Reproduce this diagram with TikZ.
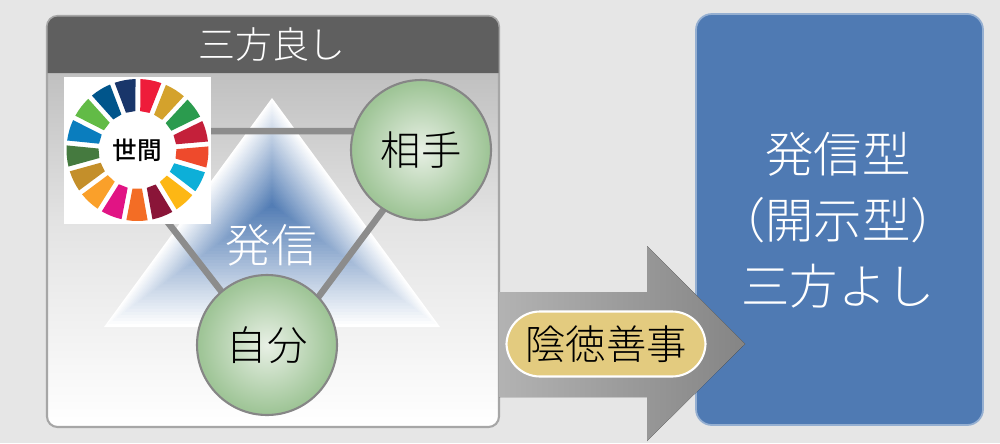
\documentclass[tikz,border=0pt]{standalone}
\usepackage{fontspec}
\setmainfont[UprightFont=* Light, BoldFont=* Medium]{Noto Sans CJK JP}
\usetikzlibrary{calc}

\definecolor{bgGray}{HTML}{E6E6E6}
\definecolor{headGray}{HTML}{5F5F5F}
\definecolor{linkGray}{HTML}{8C8C8C}
\definecolor{boxBlue}{HTML}{4F7AB3}
\definecolor{pillGold}{HTML}{E3CB7F}
\definecolor{ballGreen}{HTML}{9FC597}
\definecolor{ballLight}{HTML}{E8F0E5}

\pgfdeclareradialshading{ballshade}{\pgfpoint{0bp}{0bp}}{color(0bp)=(ballLight); color(24bp)=(ballGreen); color(50bp)=(ballGreen)}

\tikzset{
    ball/.style={circle, draw=gray!95, line width=1.2pt, minimum size=2.8cm, inner sep=0pt,
        shade, shading=ballshade, font=\fontsize{23}{23}\selectfont},
    link/.style={draw=linkGray, line width=3.7pt},
    whitelabel/.style={text=white, font=\fontsize{#1}{#1}\selectfont},
}

\begin{document}
\begin{tikzpicture}[x=0.02cm, y=-0.02cm]
\useasboundingbox (0,0) rectangle (1000,443);
\fill[bgGray] (0,0) rectangle (1000,443);

% Left panel
\draw[draw=gray!70, line width=1.2pt, rounded corners=6pt, top color=black!30, bottom color=white, middle color=black!11]
    (47,16) rectangle (499,427);
\fill[headGray] (47.5,73) [rounded corners=6pt] -- (47.5,16.5) -- (498.5,16.5) [sharp corners] -- (498.5,73) -- cycle;
\node[whitelabel=21] (title) at (272,44) {三方良し};

% Right box
\draw[draw=boxBlue!60!white, line width=1pt, fill=boxBlue, rounded corners=9pt] (696,14) rectangle (983,425);
\node[whitelabel=27.5, align=center] (result) at (838,220) {発信型\\[10pt]（開示型）\\[10pt]三方よし};

% Triangle, white at the edge and blue inside
\foreach \i in {0,...,40} {
    \pgfmathsetmacro{\s}{1-\i/40}
    \pgfmathsetmacro{\c}{100*\i/40}
    \fill[boxBlue!\c!white] ($(272,205)+\s*(0,-107)$) -- ($(272,205)+\s*(168,122)$) -- ($(272,205)+\s*(-168,122)$) -- cycle;
}

% Links
\coordinate (linkL) at (97,131);
\coordinate (linkR) at (442,131);
\coordinate (linkB) at (273,358);
\draw[link] (linkL) -- (linkR) -- (linkB) -- cycle;
\node[whitelabel=26] (send) at (271,245) {発信};

% Goal wheel
\node[fill=white, minimum width=2.94cm, minimum height=2.94cm, inner sep=0pt] (wheel) at (137.5,150.5) {};
\foreach \col [count=\i from 0] in {EE1C3A,D4A22C,2B9B4E,C4203A,EE4A2C,0DAFD8,FDB714,8A1538,F36D25,E11484,FAA02A,C48F2A,457A3F,0A7DBE,62BB46,00558B,19366A} {
    \definecolor{wedge}{HTML}{\col}
    \pgfmathsetmacro{\m}{79-\i*360/17}
    \fill[wedge] ($(137.5,150)+(\m+8.6:1.42cm)$) arc[start angle=\m+8.6, end angle=\m-8.6, radius=1.42cm]
        -- ($(137.5,150)+(\m-7:0.78cm)$) -- ($(137.5,150)+(\m+7:0.78cm)$) -- cycle;
}
\node[font=\fontsize{14}{14}\selectfont\bfseries] (world) at (137.5,150) {世間};

% People
\node[ball] (partner) at (421,150) {相手};
\node[ball] (self) at (267,345) {自分};

% Arrow
\fill[left color=black!30, right color=black!48] (499,292) -- (647,292) -- (647,246) -- (745,344) -- (647,441) -- (647,397) -- (499,397) -- cycle;
\node[draw=white, line width=1.2pt, fill=pillGold, rounded corners=19pt, minimum width=3.98cm, minimum height=1.3cm, inner sep=0pt,
    font=\fontsize{23}{23}\selectfont] (deed) at (606,344) {陰徳善事};

\end{tikzpicture}
\end{document}
